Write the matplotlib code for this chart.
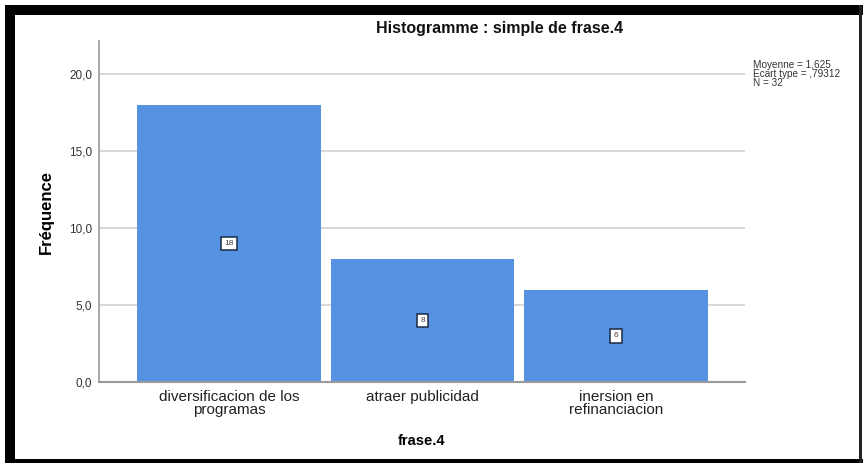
import matplotlib
matplotlib.use("Agg")
import matplotlib.pyplot as plt
from matplotlib.patches import Rectangle

categories = ["diversificacion de los\nprogramas", "atraer publicidad", "inersion en\nrefinanciacion"]
counts = [18, 8, 6]
yticks = [0, 5, 10, 15, 20]
ytick_labels = ["0,0", "5,0", "10,0", "15,0", "20,0"]
stats_text = "Moyenne = 1,625\nEcart type = ,79312\nN = 32"
title = "Histogramme : simple de frase.4"
xlabel = "frase.4"
ylabel = "Fréquence"

plt.rcParams['font.family'] = ['Liberation Sans', 'DejaVu Sans']

W, H = 863, 463
fig = plt.figure(figsize=(W / 100, H / 100), dpi=100)
fig.patch.set_facecolor("white")

def px(x0, y0, w, h, color):
    fig.patches.append(Rectangle((x0 / W, 1 - (y0 + h) / H), w / W, h / H,
                                 transform=fig.transFigure, facecolor=color,
                                 edgecolor="none", zorder=0))

# black frame
px(5, 5, 858, 10, "black")
px(5, 5, 10, 458, "black")
px(5, 459, 858, 4, "black")
px(859, 5, 3, 458, "#222222")

ax = fig.add_axes([99 / W, 1 - 382 / H, (745 - 99) / W, (382 - 41) / H])
x = list(range(len(categories)))
bars = ax.bar(x, counts, width=0.948, color="#5593E2", edgecolor="none", zorder=2)
ax.set_xlim(-0.672, 2.667)
ax.set_ylim(0, 22.16)

ax.set_yticks(yticks)
ax.set_yticklabels(ytick_labels, fontsize=8.5, color="#333333")
ax.set_xticks(x)
ax.set_xticklabels(categories, fontsize=11, color="#222222", linespacing=0.92)
ax.tick_params(axis="both", length=0)
ax.tick_params(axis="y", pad=5)
ax.tick_params(axis="x", pad=6)

for yv in yticks[1:]:
    ax.axhline(yv, color="#d4d4d4", lw=1.3, zorder=1)

for s in ["top", "right"]:
    ax.spines[s].set_visible(False)
ax.spines["left"].set_color("#9a9a9a")
ax.spines["left"].set_linewidth(1.2)
ax.spines["bottom"].set_color("#9a9a9a")
ax.spines["bottom"].set_linewidth(1.5)

for xi, c in zip(x, counts):
    ax.text(xi, c / 2, str(c), ha="center", va="center", fontsize=6,
            color="#444444", zorder=4,
            bbox=dict(boxstyle="square,pad=0.4", facecolor="white",
                      edgecolor="#1a2a44", linewidth=1.1))

ax.set_ylabel(ylabel, fontsize=12, fontweight="bold", labelpad=11)
ax.set_xlabel(xlabel, fontsize=10.5, fontweight="bold", labelpad=12)

fig.text(500 / W, 1 - 28 / H, title, ha="center", va="center", fontsize=11.5,
         fontweight="bold", color="#111111")
fig.text(753 / W, 1 - 60 / H, stats_text, ha="left", va="top", fontsize=7.2,
         color="#333333", linespacing=0.9)

fig.savefig("out.png", dpi=100)
